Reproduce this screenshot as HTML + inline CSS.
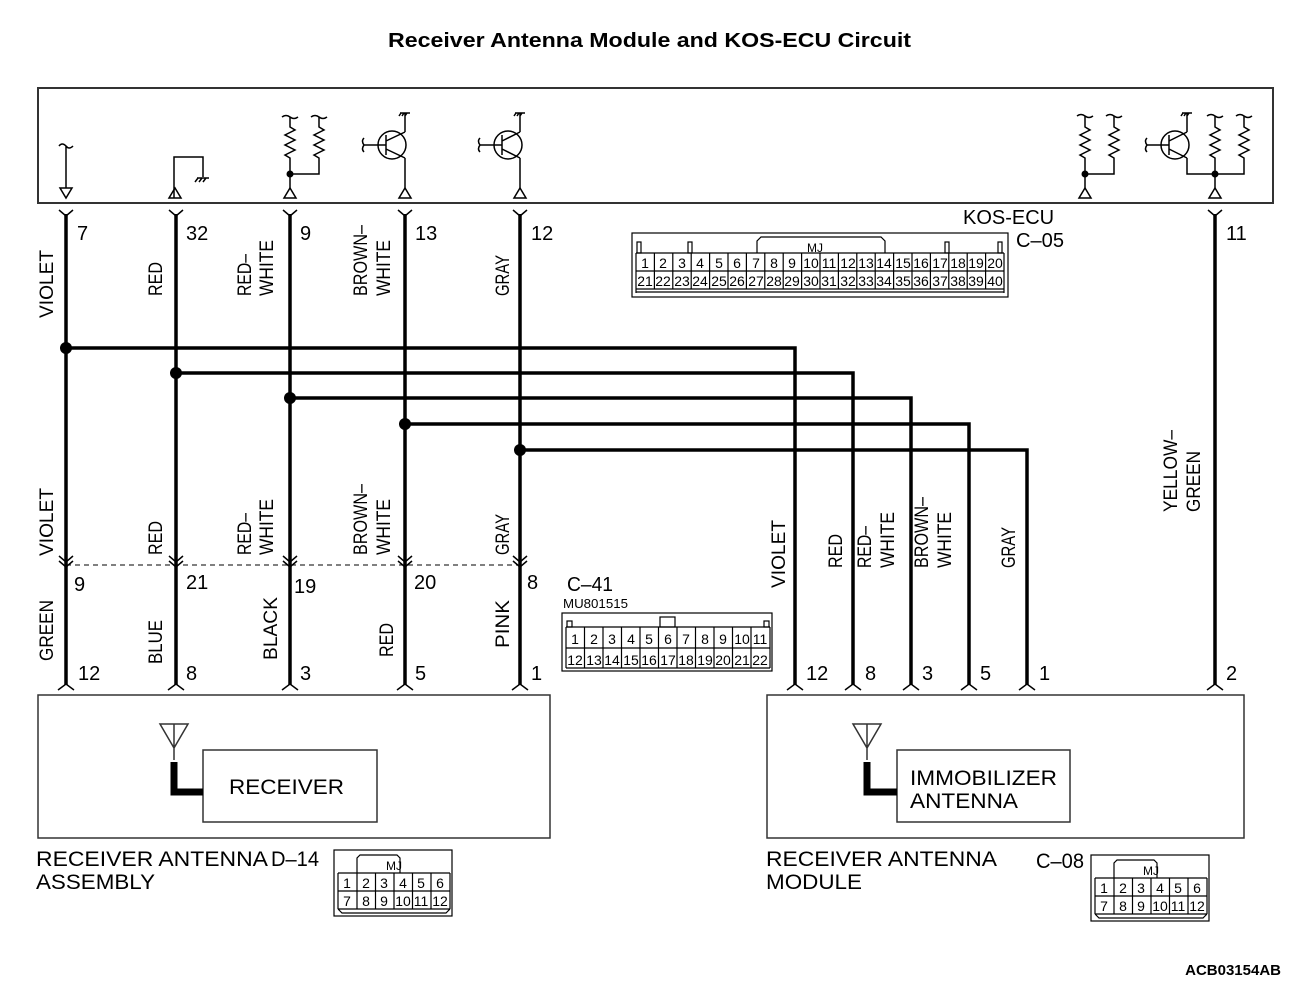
<!DOCTYPE html>
<html><head><meta charset="utf-8"><style>
html,body{margin:0;padding:0;background:#fff;}
svg{display:block;}
text{font-family:"Liberation Sans",sans-serif;fill:#000;}
.c{font-size:19px;}
.n{font-size:20px;}
.s{font-size:13px;}
</style></head><body>
<svg width="1303" height="989" viewBox="0 0 1303 989" xmlns="http://www.w3.org/2000/svg">
<text x="388" y="47" font-size="20" font-weight="bold" textLength="523" lengthAdjust="spacingAndGlyphs">Receiver Antenna  Module and KOS-ECU Circuit</text>
<!-- ECU box -->
<rect x="38" y="88" width="1235" height="115" fill="none" stroke="#333" stroke-width="2"/>
<g fill="none" stroke="#000" stroke-width="1.5">
<path d="M59 146 q3 -4 7 0 q3 4 7 0 M66 146 V188"/>
<path d="M60 188 H72 L66 198 Z"/>
<path d="M174 198 V157 H203 V177 M197 178 H209 M198 178 l-3 4 M202 178 l-3 4 M206 178 l-3 4"/>
<path d="M169 198 H181 L175 188 Z"/>
<path d="M282 117 q4 -3 8 0 q4 3 8 0 M290 117 V127 l5 3 l-10 5 l10 5 l-10 5 l10 5 l-10 5 l5 3 V188"/>
<path d="M311 117 q4 -3 8 0 q4 3 8 0 M319 117 V127 l5 3 l-10 5 l10 5 l-10 5 l10 5 l-10 5 l5 3 V174 H290"/>
<path d="M284 198 H296 L290 188 Z"/>
<circle cx="392" cy="145" r="14"/>
<path d="M364 145 q-3 -4 0 -7 M364 145 q-3 4 0 7 M364 145 H386 M386 135 V155 M386 141 L405 132 M386 149 L405 158 M405 113 V132 M405 158 V188 M400 113 H410 M401 113 l-2 3 M404 113 l-2 3 M407 113 l-2 3"/>
<path d="M399 198 H411 L405 188 Z"/>
<circle cx="508" cy="145" r="14"/>
<path d="M480 145 q-3 -4 0 -7 M480 145 q-3 4 0 7 M480 145 H502 M502 135 V155 M502 141 L520 132 M502 149 L520 158 M520 113 V132 M520 158 V188 M515 113 H525 M516 113 l-2 3 M519 113 l-2 3 M522 113 l-2 3"/>
<path d="M514 198 H526 L520 188 Z"/>
<path d="M1077 116 q4 -3 8 0 q4 3 8 0 M1085 116 V127 l5 3 l-10 5 l10 5 l-10 5 l10 5 l-10 5 l5 3 V188"/>
<path d="M1106 116 q4 -3 8 0 q4 3 8 0 M1114 116 V127 l5 3 l-10 5 l10 5 l-10 5 l10 5 l-10 5 l5 3 V174 H1085"/>
<path d="M1079 198 H1091 L1085 188 Z"/>
<circle cx="1175" cy="145" r="14"/>
<path d="M1147 145 q-3 -4 0 -7 M1147 145 q-3 4 0 7 M1147 145 H1169 M1169 135 V155 M1169 141 L1187 132 M1169 149 L1187 158 M1187 113 V132 M1187 158 V174 H1215 M1182 113 H1192 M1183 113 l-2 3 M1186 113 l-2 3 M1189 113 l-2 3"/>
<path d="M1207 116 q4 -3 8 0 q4 3 8 0 M1215 116 V127 l5 3 l-10 5 l10 5 l-10 5 l10 5 l-10 5 l5 3 V188"/>
<path d="M1236 116 q4 -3 8 0 q4 3 8 0 M1244 116 V127 l5 3 l-10 5 l10 5 l-10 5 l10 5 l-10 5 l5 3 V174 H1215"/>
<path d="M1209 198 H1221 L1215 188 Z"/>
</g>
<g fill="#000"><circle cx="290" cy="174" r="3.5"/><circle cx="1085" cy="174" r="3.5"/><circle cx="1215" cy="174" r="3.5"/></g>

<g fill="none" stroke="#000" stroke-width="3.5">
<path d="M66 214 V685 M176 214 V685 M290 214 V685 M405 214 V685 M520 214 V685 M1215 214 V685"/>
<path d="M66 348 H795 V685 M176 373 H853 V685 M290 398 H911 V685 M405 424 H969 V685 M520 450 H1027 V685"/>
</g>
<g fill="#000"><circle cx="66" cy="348" r="6"/><circle cx="176" cy="373" r="6"/><circle cx="290" cy="398" r="6"/><circle cx="405" cy="424" r="6"/><circle cx="520" cy="450" r="6"/></g>
<g fill="none" stroke="#000" stroke-width="1.5">
<path d="M59 210 L66 216 L73 210 M169 210 L176 216 L183 210 M283 210 L290 216 L297 210 M398 210 L405 216 L412 210 M513 210 L520 216 L527 210 M1208 210 L1215 216 L1222 210"/>
<path d="M59 556 L66 562 L73 556 M59 561 L66 567 L73 561 M169 556 L176 562 L183 556 M169 561 L176 567 L183 561 M283 556 L290 562 L297 556 M283 561 L290 567 L297 561 M398 556 L405 562 L412 556 M398 561 L405 567 L412 561 M513 556 L520 562 L527 556 M513 561 L520 567 L527 561"/>
<path d="M66 565 H520" stroke-dasharray="5,4" stroke-width="1"/>
<path d="M58 690 L66 684 L74 690 M168 690 L176 684 L184 690 M282 690 L290 684 L298 690 M397 690 L405 684 L413 690 M512 690 L520 684 L528 690 M787 690 L795 684 L803 690 M845 690 L853 684 L861 690 M903 690 L911 684 L919 690 M961 690 L969 684 L977 690 M1019 690 L1027 684 L1035 690 M1207 690 L1215 684 L1223 690"/>
</g>

<g class="n">
<text x="77" y="240">7</text><text x="186" y="240">32</text><text x="300" y="240">9</text><text x="415" y="240">13</text><text x="531" y="240">12</text><text x="1226" y="240">11</text>
<text x="74" y="591">9</text><text x="186" y="589">21</text><text x="294" y="593">19</text><text x="414" y="589">20</text><text x="527" y="589">8</text>
<text x="78" y="680">12</text><text x="186" y="680">8</text><text x="300" y="680">3</text><text x="415" y="680">5</text><text x="531" y="680">1</text>
<text x="806" y="680">12</text><text x="865" y="680">8</text><text x="922" y="680">3</text><text x="980" y="680">5</text><text x="1039" y="680">1</text><text x="1226" y="680">2</text>
</g>

<g class="c">
<text transform="translate(53,318) rotate(-90)" textLength="68" lengthAdjust="spacingAndGlyphs">VIOLET</text>
<text transform="translate(162,296) rotate(-90)" textLength="34" lengthAdjust="spacingAndGlyphs">RED</text>
<text transform="translate(251,296) rotate(-90)" textLength="42" lengthAdjust="spacingAndGlyphs">RED–</text>
<text transform="translate(273,296) rotate(-90)" textLength="56" lengthAdjust="spacingAndGlyphs">WHITE</text>
<text transform="translate(367,296) rotate(-90)" textLength="71" lengthAdjust="spacingAndGlyphs">BROWN–</text>
<text transform="translate(390,296) rotate(-90)" textLength="56" lengthAdjust="spacingAndGlyphs">WHITE</text>
<text transform="translate(509,296) rotate(-90)" textLength="41" lengthAdjust="spacingAndGlyphs">GRAY</text>

<text transform="translate(53,556) rotate(-90)" textLength="68" lengthAdjust="spacingAndGlyphs">VIOLET</text>
<text transform="translate(162,555) rotate(-90)" textLength="34" lengthAdjust="spacingAndGlyphs">RED</text>
<text transform="translate(251,555) rotate(-90)" textLength="42" lengthAdjust="spacingAndGlyphs">RED–</text>
<text transform="translate(273,555) rotate(-90)" textLength="56" lengthAdjust="spacingAndGlyphs">WHITE</text>
<text transform="translate(367,555) rotate(-90)" textLength="71" lengthAdjust="spacingAndGlyphs">BROWN–</text>
<text transform="translate(390,555) rotate(-90)" textLength="56" lengthAdjust="spacingAndGlyphs">WHITE</text>
<text transform="translate(509,555) rotate(-90)" textLength="41" lengthAdjust="spacingAndGlyphs">GRAY</text>

<text transform="translate(53,661) rotate(-90)" textLength="61" lengthAdjust="spacingAndGlyphs">GREEN</text>
<text transform="translate(162,664) rotate(-90)" textLength="44" lengthAdjust="spacingAndGlyphs">BLUE</text>
<text transform="translate(277,660) rotate(-90)" textLength="63" lengthAdjust="spacingAndGlyphs">BLACK</text>
<text transform="translate(393,657) rotate(-90)" textLength="34" lengthAdjust="spacingAndGlyphs">RED</text>
<text transform="translate(509,648) rotate(-90)" textLength="48" lengthAdjust="spacingAndGlyphs">PINK</text>

<text transform="translate(785,588) rotate(-90)" textLength="68" lengthAdjust="spacingAndGlyphs">VIOLET</text>
<text transform="translate(842,568) rotate(-90)" textLength="34" lengthAdjust="spacingAndGlyphs">RED</text>
<text transform="translate(871,568) rotate(-90)" textLength="42" lengthAdjust="spacingAndGlyphs">RED–</text>
<text transform="translate(894,568) rotate(-90)" textLength="56" lengthAdjust="spacingAndGlyphs">WHITE</text>
<text transform="translate(928,568) rotate(-90)" textLength="71" lengthAdjust="spacingAndGlyphs">BROWN–</text>
<text transform="translate(951,568) rotate(-90)" textLength="56" lengthAdjust="spacingAndGlyphs">WHITE</text>
<text transform="translate(1015,568) rotate(-90)" textLength="41" lengthAdjust="spacingAndGlyphs">GRAY</text>
<text transform="translate(1177,512) rotate(-90)" textLength="82" lengthAdjust="spacingAndGlyphs">YELLOW–</text>
<text transform="translate(1200,512) rotate(-90)" textLength="61" lengthAdjust="spacingAndGlyphs">GREEN</text>
</g>

<text x="963" y="224" font-size="20">KOS-ECU</text>
<text x="1016" y="247" font-size="20" textLength="48" lengthAdjust="spacingAndGlyphs">C–05</text>
<g fill="none" stroke="#000" stroke-width="1.2">
<rect x="632" y="233" width="376" height="64"/>
<path d="M636 292 H1004 M636 253 V293 M1004 253 V293"/>
<path d="M757 253 V241 l4 -4 H881 l4 4 V253"/>
<rect x="637" y="242" width="4" height="11"/><rect x="688" y="242" width="4" height="11"/><rect x="945" y="242" width="4" height="11"/><rect x="998" y="242" width="4" height="11"/>
<path d="M636 253 H1004 M636 271 H1004 M636 289 H1004"/>
<path d="M654.4 253 V289 M672.8 253 V289 M691.2 253 V289 M709.6 253 V289 M728 253 V289 M746.4 253 V289 M764.8 253 V289 M783.2 253 V289 M801.6 253 V289 M820 253 V289 M838.4 253 V289 M856.8 253 V289 M875.2 253 V289 M893.6 253 V289 M912 253 V289 M930.4 253 V289 M948.8 253 V289 M967.2 253 V289 M985.6 253 V289"/>
</g>
<text x="815" y="252" font-size="12" text-anchor="middle">MJ</text>
<g font-size="14" text-anchor="middle">
<text x="645" y="268">1</text><text x="663" y="268">2</text><text x="682" y="268">3</text><text x="700" y="268">4</text><text x="719" y="268">5</text><text x="737" y="268">6</text><text x="756" y="268">7</text><text x="774" y="268">8</text><text x="792" y="268">9</text><text x="811" y="268">10</text><text x="829" y="268">11</text><text x="848" y="268">12</text><text x="866" y="268">13</text><text x="884" y="268">14</text><text x="903" y="268">15</text><text x="921" y="268">16</text><text x="940" y="268">17</text><text x="958" y="268">18</text><text x="976" y="268">19</text><text x="995" y="268">20</text>
<text x="645" y="286">21</text><text x="663" y="286">22</text><text x="682" y="286">23</text><text x="700" y="286">24</text><text x="719" y="286">25</text><text x="737" y="286">26</text><text x="756" y="286">27</text><text x="774" y="286">28</text><text x="792" y="286">29</text><text x="811" y="286">30</text><text x="829" y="286">31</text><text x="848" y="286">32</text><text x="866" y="286">33</text><text x="884" y="286">34</text><text x="903" y="286">35</text><text x="921" y="286">36</text><text x="940" y="286">37</text><text x="958" y="286">38</text><text x="976" y="286">39</text><text x="995" y="286">40</text>
</g>

<text x="567" y="591" font-size="20" textLength="46" lengthAdjust="spacingAndGlyphs">C–41</text>
<text x="563" y="608" font-size="13" textLength="65" lengthAdjust="spacingAndGlyphs">MU801515</text>
<g fill="none" stroke="#000" stroke-width="1.2">
<rect x="562" y="613" width="210" height="58"/>
<rect x="567" y="621" width="5" height="6"/><rect x="764" y="621" width="5" height="6"/>
<rect x="660" y="617" width="15" height="10"/>
<path d="M566 627 H770 M566 648 H770 M566 668 H770 M566 627 V668 M770 627 V668"/>
<path d="M584.5 627 V668 M603 627 V668 M621.5 627 V668 M640 627 V668 M658.5 627 V668 M677 627 V668 M695.5 627 V668 M714 627 V668 M732.5 627 V668 M751 627 V668"/>
</g>
<g font-size="14" text-anchor="middle">
<text x="575" y="644">1</text><text x="594" y="644">2</text><text x="612" y="644">3</text><text x="631" y="644">4</text><text x="649" y="644">5</text><text x="668" y="644">6</text><text x="686" y="644">7</text><text x="705" y="644">8</text><text x="723" y="644">9</text><text x="742" y="644">10</text><text x="760" y="644">11</text>
<text x="575" y="665">12</text><text x="594" y="665">13</text><text x="612" y="665">14</text><text x="631" y="665">15</text><text x="649" y="665">16</text><text x="668" y="665">17</text><text x="686" y="665">18</text><text x="705" y="665">19</text><text x="723" y="665">20</text><text x="742" y="665">21</text><text x="760" y="665">22</text>
</g>

<g fill="none" stroke="#333" stroke-width="1.5">
<rect x="38" y="695" width="512" height="143"/>
<rect x="767" y="695" width="477" height="143"/>
<rect x="203" y="750" width="174" height="72"/>
<rect x="897" y="750" width="173" height="72"/>
<path d="M160 724 H188 L174 748 Z M174 724 V760"/>
<path d="M853 724 H881 L867 748 Z M867 724 V760"/>
</g>
<path d="M174 762 V792 H203" fill="none" stroke="#000" stroke-width="7"/>
<path d="M867 762 V792 H897" fill="none" stroke="#000" stroke-width="7"/>
<text x="229" y="794" font-size="21" textLength="115" lengthAdjust="spacingAndGlyphs">RECEIVER</text>
<text x="910" y="785" font-size="21" textLength="147" lengthAdjust="spacingAndGlyphs">IMMOBILIZER</text>
<text x="910" y="808" font-size="21" textLength="108" lengthAdjust="spacingAndGlyphs">ANTENNA</text>

<text x="36" y="866" font-size="21" textLength="232" lengthAdjust="spacingAndGlyphs">RECEIVER ANTENNA</text>
<text x="36" y="889" font-size="21" textLength="119" lengthAdjust="spacingAndGlyphs">ASSEMBLY</text>
<text x="271" y="866" font-size="21" textLength="48" lengthAdjust="spacingAndGlyphs">D–14</text>
<text x="766" y="866" font-size="21" textLength="231" lengthAdjust="spacingAndGlyphs">RECEIVER ANTENNA</text>
<text x="766" y="889" font-size="21" textLength="96" lengthAdjust="spacingAndGlyphs">MODULE</text>
<text x="1036" y="868" font-size="21" textLength="48" lengthAdjust="spacingAndGlyphs">C–08</text>

<g fill="none" stroke="#000" stroke-width="1.2">
<rect x="334" y="850" width="118" height="66"/>
<path d="M357 873 V858 l3 -3 H397 l3 3 V873"/>
<path d="M338 873 H450 M338 891 H450 M338 909 H450 M338 873 V909 M450 873 V909 M357 873 V909 M375.5 873 V909 M394 873 V909 M412.5 873 V909 M431 873 V909 M338 909 l4 4 H446 l4 -4"/>
</g>
<text x="394" y="870" font-size="12" text-anchor="middle">MJ</text>
<g font-size="14" text-anchor="middle">
<text x="347" y="888">1</text><text x="366" y="888">2</text><text x="384" y="888">3</text><text x="403" y="888">4</text><text x="421" y="888">5</text><text x="440" y="888">6</text>
<text x="347" y="906">7</text><text x="366" y="906">8</text><text x="384" y="906">9</text><text x="403" y="906">10</text><text x="421" y="906">11</text><text x="440" y="906">12</text>
</g>
<g fill="none" stroke="#000" stroke-width="1.2">
<rect x="1091" y="855" width="118" height="66"/>
<path d="M1114 878 V863 l3 -3 H1154 l3 3 V878"/>
<path d="M1095 878 H1207 M1095 896 H1207 M1095 914 H1207 M1095 878 V914 M1207 878 V914 M1114 878 V914 M1132.5 878 V914 M1151 878 V914 M1169.5 878 V914 M1188 878 V914 M1095 914 l4 4 H1203 l4 -4"/>
</g>
<text x="1151" y="875" font-size="12" text-anchor="middle">MJ</text>
<g font-size="14" text-anchor="middle">
<text x="1104" y="893">1</text><text x="1123" y="893">2</text><text x="1141" y="893">3</text><text x="1160" y="893">4</text><text x="1178" y="893">5</text><text x="1197" y="893">6</text>
<text x="1104" y="911">7</text><text x="1123" y="911">8</text><text x="1141" y="911">9</text><text x="1160" y="911">10</text><text x="1178" y="911">11</text><text x="1197" y="911">12</text>
</g>

<text x="1281" y="975" font-size="15" font-weight="bold" text-anchor="end">ACB03154AB</text>
</svg>
</body></html>
